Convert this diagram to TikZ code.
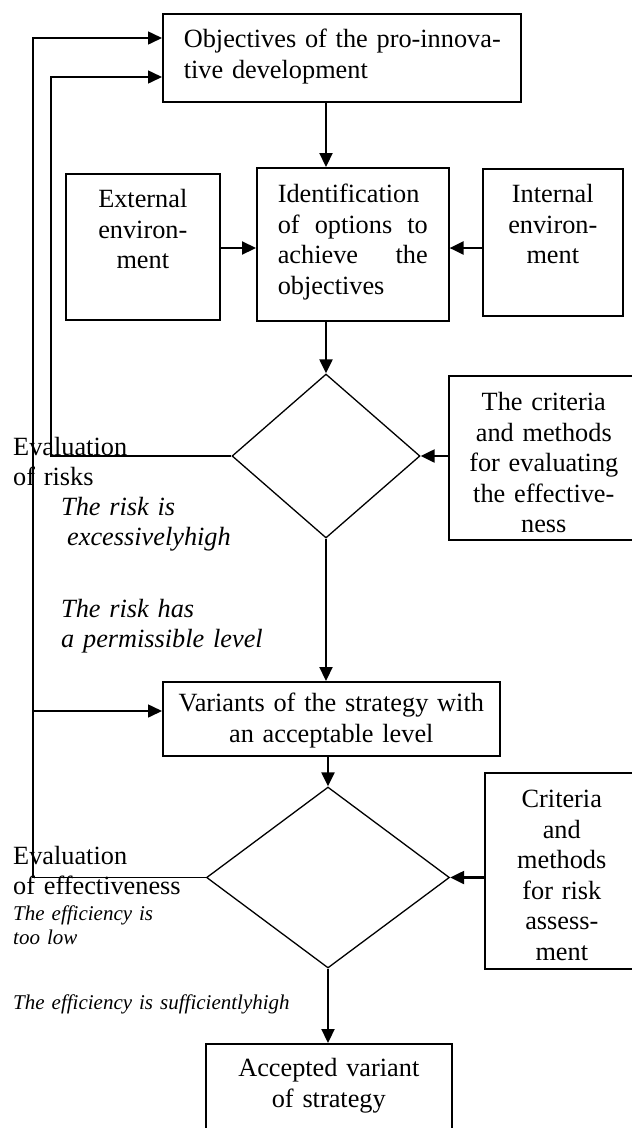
\documentclass[tikz,border=0pt]{standalone}
\usepackage{fontspec}
\setmainfont{Liberation Serif}
\usetikzlibrary{positioning,shapes.geometric,arrows.meta}
\newcommand{\mainsize}{\fontsize{26.3}{30.5}\selectfont}
\newcommand{\notesize}{\fontsize{21}{24}\selectfont}

\begin{document}
\begin{tikzpicture}[
    x=1pt, y=-1pt,
    every node/.style={font=\mainsize},
    box/.style={
        draw,
        line width=1.6pt,
        anchor=north west,
        inner xsep=0pt,
        inner ysep=0pt,
        align=center
    },
    decision/.style={
        draw,
        diamond,
        line width=1.3pt,
        inner sep=0pt
    },
    note/.style={
        anchor=base west,
        inner sep=0pt,
        align=left
    },
    tip/.style={-{Triangle[length=14pt,width=13pt]}},
    flow/.style={tip, line width=2.2pt},
    feedback/.style={line width=1.6pt}
]
\useasboundingbox (0,0) rectangle (632,1128);

% boxes
\node[box, align=left, inner xsep=21pt, text width=316pt,
      text height=34pt, text depth=54pt] (goals) at (162,13)
{\mbox{Objectives of the pro-innova-}\\tive development};
\node[box, text width=154pt, text height=34pt, text depth=112pt] (external) at (65,173)
{External\\environ-\\ment};
\node[box, align=left, inner xsep=21pt, text width=150pt,
      text height=35pt, text depth=118pt] (options) at (256,167)
{Identification\\of\hfill options\hfill to\\achieve\hfill the\\objectives};
\node[box, text width=140pt, text height=34pt, text depth=113pt] (internal) at (482,168)
{Internal\\environ-\\ment};
\node[decision, minimum width=188pt, minimum height=164pt] (risk) at (326,456) {};
\node[box, text width=190pt, text height=35pt, text depth=129pt] (effcrit) at (448,375)
{The criteria\\and methods\\for evaluating\\the effective-\\ness};
\node[box, text width=337pt, text height=30pt, text depth=44pt] (variants) at (162,681)
{Variants of the strategy with\\an acceptable level};
\node[decision, minimum width=243pt, minimum height=181pt] (choice) at (328,877.5) {};
\node[box, text width=154pt, text height=35pt, text depth=161pt] (riskcrit) at (484,772)
{Criteria\\and\\methods\\for risk\\assess-\\ment};
\node[box, text width=246pt, text height=33pt, text depth=64pt] (accepted) at (205,1043)
{Accepted variant\\of strategy};

% labels
\node[note, text width=130pt] (evalrisk) at (13,455) {Evaluation\\of risks};
\node[note, text width=230pt, font=\mainsize\itshape] (riskhigh) at (61,515)
{The risk is\\\hspace*{6pt}excessivelyhigh};
\node[note, text width=230pt, font=\mainsize\itshape] (riskok) at (61,617)
{The risk has\\a permissible level};
\node[note, text width=180pt] (evaleff) at (13,864) {Evaluation\\of effectiveness};
\node[note, text width=150pt, font=\notesize\itshape] (efflow) at (13,920)
{The efficiency is\\too low};
\node[note, text width=290pt, font=\notesize\itshape] (effhigh) at (13,1009)
{The efficiency is sufficientlyhigh};

\coordinate (inner) at (51,77);
\coordinate (outer) at (33,38);
\coordinate (fork) at (33,711);
\coordinate (side) at (0,248);

% connectors
\draw[flow] (goals.south -| risk.north) -- (options.north -| risk.north);
\draw[flow] (external.east |- side) -- (options.west |- side);
\draw[flow] (internal.west |- side) -- (options.east |- side);
\draw[flow] (options.south -| risk.north) -- (risk.north);
\draw[flow] (effcrit.west |- risk.east) -- (risk.east);
\draw[flow] (risk.south) -- (variants.north -| risk.south);
\draw[flow] (variants.south -| choice.north) -- (choice.north);
\draw[flow] (riskcrit.west |- choice.east) -- (choice.east);
\draw[flow] (choice.south) -- (accepted.north -| choice.south);

% feedback loops
\draw[feedback, tip] (risk.west) -| (inner) -- (goals.west |- inner);
\draw[feedback, tip] (choice.west) -| (outer) -- (goals.west |- outer);
\draw[feedback, tip] (fork) -- (variants.west |- fork);
\end{tikzpicture}
\end{document}
